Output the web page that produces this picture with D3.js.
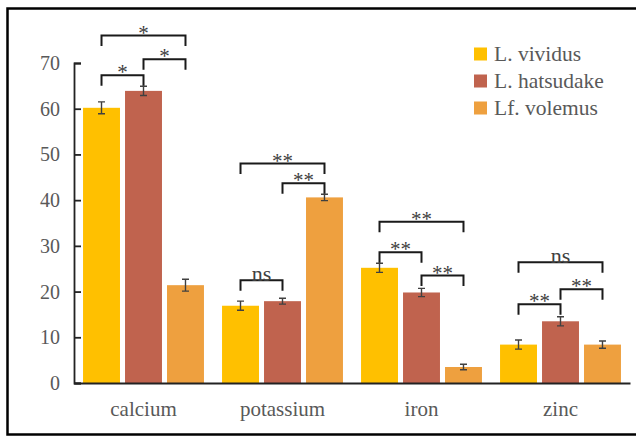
<!DOCTYPE html>
<html>
<head>
<meta charset="utf-8">
<script src="https://cdn.jsdelivr.net/npm/d3@7.9.0/dist/d3.min.js"></script>
<style>
  svg text { font-family: "Liberation Serif", Tinos, "Times New Roman", serif !important; }
</style>
</head>
<body style="margin:0">
<div id="chart"></div>
<script>
const serifFont = 'Liberation Serif';

// minerals on the x axis
const categories = ['calcium', 'potassium', 'iron', 'zinc'];
const species = ['L. vividus', 'L. hatsudake', 'Lf. volemus'];
const colors = ['#FFC000', '#C0634E', '#EEA03F'];

// means, one array per species (same order as categories)
const vividus = [60.2, 16.9, 25.2, 8.4];
const hatsudake = [63.9, 17.9, 19.8, 13.5];
const volemus = [21.4, 40.6, 3.5, 8.4];

// error bar half lengths
const vividusErr = [1.3, 1.0, 1.0, 1.0];
const hatsudakeErr = [1.0, 0.65, 0.9, 1.0];
const volemusErr = [1.3, 0.7, 0.6, 0.8];

const yTicks = [0, 10, 20, 30, 40, 50, 60, 70];

// significance brackets: category, the two species compared, level (value units), label
const brackets = [
  { cat: 'calcium', a: 0, b: 1, y: 67.3, label: '*' },
  { cat: 'calcium', a: 1, b: 2, y: 70.8, label: '*' },
  { cat: 'calcium', a: 0, b: 2, y: 76.0, label: '*' },
  { cat: 'potassium', a: 0, b: 1, y: 22.5, label: 'ns' },
  { cat: 'potassium', a: 1, b: 2, y: 43.7, label: '**' },
  { cat: 'potassium', a: 0, b: 2, y: 48.0, label: '**' },
  { cat: 'iron', a: 0, b: 1, y: 28.6, label: '**' },
  { cat: 'iron', a: 1, b: 2, y: 23.5, label: '**' },
  { cat: 'iron', a: 0, b: 2, y: 35.3, label: '**' },
  { cat: 'zinc', a: 0, b: 1, y: 17.2, label: '**' },
  { cat: 'zinc', a: 1, b: 2, y: 20.5, label: '**' },
  { cat: 'zinc', a: 0, b: 2, y: 26.4, label: 'ns' },
];

const seriesValues = [vividus, hatsudake, volemus];
const seriesErrors = [vividusErr, hatsudakeErr, volemusErr];

const rows = [];
categories.forEach((cat, i) => {
  species.forEach((sp, j) => {
    rows.push({ cat, sp, j, value: seriesValues[j][i], err: seriesErrors[j][i] });
  });
});

const width = 636;
const height = 437;
const area = { left: 74, right: 630, top: 63, bottom: 383 };

const svg = d3.select('#chart')
  .append('svg')
  .attr('width', width)
  .attr('height', height)
  .attr('font-family', serifFont)
  .style('font-family', `"${serifFont}"`);

// outer frame (right edge runs off the picture)
svg.append('rect')
  .attr('x', 7.5)
  .attr('y', 8.5)
  .attr('width', 660)
  .attr('height', 426)
  .attr('fill', 'none')
  .attr('stroke', '#000')
  .attr('stroke-width', 2.5);

const x0 = d3.scaleBand()
  .domain(categories)
  .range([area.left, area.right])
  .paddingInner(0.13)
  .paddingOuter(0.065);

const x1 = d3.scaleBand()
  .domain(species)
  .range([0, x0.bandwidth()])
  .paddingInner(0.12);

const y = d3.scaleLinear().domain([0, 70]).range([area.bottom, area.top]);

const barX = (cat, j) => x0(cat) + x1(species[j]);
const barMid = (cat, j) => barX(cat, j) + x1.bandwidth() / 2;

// bars
svg.append('g')
  .selectAll('rect')
  .data(rows)
  .join('rect')
  .attr('x', d => barX(d.cat, d.j))
  .attr('y', d => y(d.value))
  .attr('width', x1.bandwidth())
  .attr('height', d => y(0) - y(d.value))
  .attr('fill', d => colors[d.j]);

// error bars
const eb = svg.append('g')
  .attr('stroke', '#404040')
  .attr('stroke-width', 1.4);

eb.selectAll('path')
  .data(rows)
  .join('path')
  .attr('fill', 'none')
  .attr('d', d => {
    const cx = barMid(d.cat, d.j);
    const t = y(d.value + d.err);
    const b = y(d.value - d.err);
    return `M${cx - 3.5},${t}H${cx + 3.5}M${cx},${t}V${b}M${cx - 3.5},${b}H${cx + 3.5}`;
  });

// y axis, ticks pointing inward
const yAxis = svg.append('g')
  .attr('transform', `translate(${area.left},0)`)
  .call(d3.axisRight(y).tickValues(yTicks).tickSize(7).tickFormat(''));
yAxis.attr('font-family', null);
yAxis.select('.domain').attr('stroke', '#222').attr('stroke-width', 1.8);
yAxis.selectAll('.tick line').attr('stroke', '#222').attr('stroke-width', 1.8);

// x axis line only; category labels drawn below with the band scale
const xAxis = svg.append('g')
  .attr('transform', `translate(0,${area.bottom})`)
  .call(d3.axisBottom(x0).tickSize(0).tickFormat(''));
xAxis.attr('font-family', null);
xAxis.select('.domain').attr('stroke', '#222').attr('stroke-width', 1.8);

// all texts
const labels = svg.append('g');

labels.selectAll('text.ytick')
  .data(yTicks)
  .join('text')
  .attr('class', 'ytick')
  .attr('x', area.left - 14)
  .attr('y', d => y(d) + 7)
  .attr('text-anchor', 'end')
  .attr('font-size', 20)
  .attr('fill', '#595959')
  .attr('font-family', serifFont)
  .text(d => d);

labels.selectAll('text.xcat')
  .data(categories)
  .join('text')
  .attr('class', 'xcat')
  .attr('x', d => x0(d) + x0.bandwidth() / 2)
  .attr('y', area.bottom + 33)
  .attr('text-anchor', 'middle')
  .attr('font-size', 21)
  .attr('fill', '#595959')
  .attr('font-family', serifFont)
  .text(d => d);

// significance brackets
const leg = 10.5;
const bg = svg.append('g');
bg.selectAll('path')
  .data(brackets)
  .join('path')
  .attr('fill', 'none')
  .attr('stroke', '#1a1a1a')
  .attr('stroke-width', 2)
  .attr('d', d => {
    const xa = barMid(d.cat, d.a);
    const xb = barMid(d.cat, d.b);
    const yy = y(d.y);
    return `M${xa},${yy + leg}V${yy}H${xb}V${yy + leg}`;
  });

bg.selectAll('text')
  .data(brackets)
  .join('text')
  .attr('x', d => (barMid(d.cat, d.a) + barMid(d.cat, d.b)) / 2)
  .attr('y', d => y(d.y) + (d.label === 'ns' ? 1 : 4))
  .attr('text-anchor', 'middle')
  .attr('font-size', d => d.label === 'ns' ? 22 : 21)
  .attr('fill', '#404040')
  .attr('font-family', serifFont)
  .text(d => d.label);

// legend
const lg = svg.append('g').attr('transform', 'translate(474,54)');
const item = lg.selectAll('g')
  .data(species)
  .join('g')
  .attr('transform', (d, i) => `translate(0,${i * 27})`);
item.append('rect')
  .attr('x', 0)
  .attr('y', -6.5)
  .attr('width', 13)
  .attr('height', 13)
  .attr('fill', (d, i) => colors[i]);
item.append('text')
  .attr('x', 20)
  .attr('y', 7)
  .attr('font-size', 21.5)
  .attr('fill', '#595959')
  .attr('font-family', serifFont)
  .text(d => d);
</script>
</body>
</html>
